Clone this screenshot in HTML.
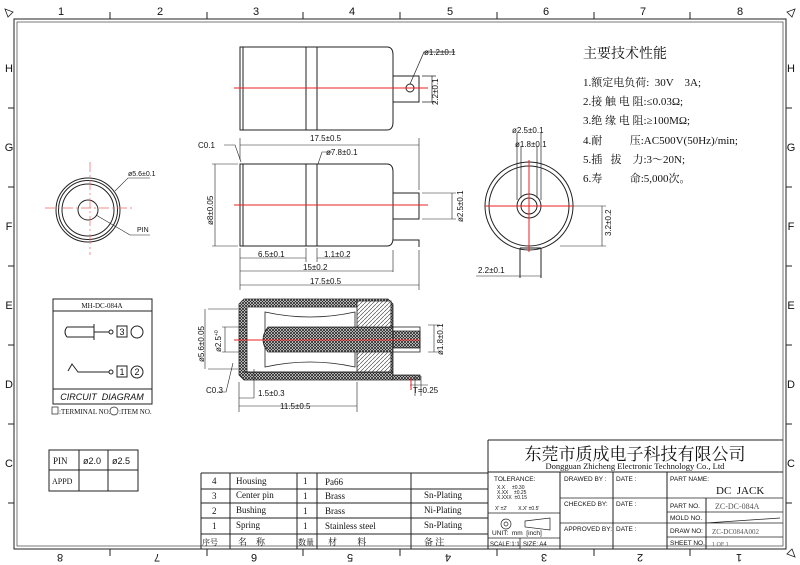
<!DOCTYPE html>
<html><head><meta charset="utf-8"><style>
body{margin:0;background:#fff}
svg{display:block}
text{font-family:"Liberation Sans","Noto Sans CJK SC",sans-serif;fill:#111;white-space:pre}
.s text,text.s{font-family:"Liberation Serif","Noto Serif CJK SC",serif}
</style></head><body>
<svg width="800" height="565" viewBox="0 0 800 565" xmlns="http://www.w3.org/2000/svg">
<defs>
<pattern id="ch" width="3" height="3" patternUnits="userSpaceOnUse"><rect width="3" height="3" fill="#fff"/><path d="M0 0L3 3M3 0L0 3" stroke="#222" stroke-width="0.8"/></pattern>
<pattern id="hh" width="4" height="4" patternUnits="userSpaceOnUse"><rect width="4" height="4" fill="#fff"/><path d="M0 4L4 0" stroke="#333" stroke-width="0.6"/></pattern>
</defs>
<g fill="none" stroke="#222" stroke-width="1">
<rect x="14" y="19" width="772" height="530"/>
<rect x="17" y="22" width="766" height="524" stroke-width="0.6"/>
<path d="M110 12V19M207 12V19M303 12V19M400 12V19M497 12V19M594 12V19M690 12V19"/>
<path d="M110 549V556M207 549V556M303 549V556M400 549V556M497 549V556M594 549V556M690 549V556"/>
<path d="M8 108H14M8 187H14M8 266H14M8 345H14M8 424H14M8 503H14M786 108H792M786 187H792M786 266H792M786 345H792M786 424H792M786 503H792"/>
<path d="M5 9L13 12L8 17Z M795 9L787 12L792 17Z M795 557L787 554L792 549Z" stroke-width="0.8"/>
</g>
<g font-size="11" text-anchor="middle">
<text x="61" y="15">1</text><text x="160" y="15">2</text><text x="256" y="15">3</text><text x="352" y="15">4</text><text x="450" y="15">5</text><text x="546" y="15">6</text><text x="643" y="15">7</text><text x="740" y="15">8</text>
<g transform="rotate(180 400 558)"><text x="61" y="562">1</text><text x="160" y="562">2</text><text x="256" y="562">3</text><text x="352" y="562">4</text><text x="450" y="562">5</text><text x="546" y="562">6</text><text x="643" y="562">7</text><text x="740" y="562">8</text></g>
<text x="9" y="72">H</text><text x="9" y="151">G</text><text x="9" y="230">F</text><text x="9" y="309">E</text><text x="9" y="388">D</text><text x="9" y="467">C</text>
<text x="791" y="72">H</text><text x="791" y="151">G</text><text x="791" y="230">F</text><text x="791" y="309">E</text><text x="791" y="388">D</text><text x="791" y="467">C</text>
</g>

<!-- top view -->
<g fill="none" stroke="#222" stroke-width="1">
<path d="M240 47H387Q393 47 393 55V122Q393 130 387 130H240Z"/>
<path d="M243 47V130M306 47V130M317 47V130"/>
<rect x="393" y="76" width="26" height="26"/>
<circle cx="410" cy="88" r="4"/>
<path d="M422 76H436M422 102H436M432 76V102M410 84L424 52H455" stroke-width="0.7"/>
</g>
<path d="M234 88H428" stroke="#e22" stroke-width="1"/>
<text x="424" y="55" font-size="8">ø1.2±0.1</text>
<text x="0" y="0" font-size="8" transform="translate(438 105) rotate(-90)">2.2±0.1</text>

<!-- side view -->
<g fill="none" stroke="#222" stroke-width="1">
<path d="M240 164H387Q393 164 393 172V238Q393 246 387 246H240Z"/>
<path d="M243 164V246M306 164V246M317 164V246"/>
<rect x="393" y="193" width="26" height="26"/>
<path d="M393 240H419V247" />
<g stroke-width="0.6">
<path d="M240 138V160M419 138V190M240 145H419M212 164H238M212 246H238M215 164V246"/>
<path d="M240 248V290M306 248V262M317 248V262M393 250V272M419 250V290M240 258H306M317 258H350M240 271H393M240 285H419"/>
<path d="M422 193H456M422 219H456M452 193V219M224 145H235L241 162M318 164L322 152H332"/>
</g>
</g>
<path d="M234 205H428" stroke="#e22"/>
<g font-size="8">
<text x="310" y="141">17.5±0.5</text>
<text x="198" y="148">C0.1</text>
<text x="326" y="155">ø7.8±0.1</text>
<text x="258" y="257">6.5±0.1</text>
<text x="324" y="257">1.1±0.2</text>
<text x="303" y="270">15±0.2</text>
<text x="310" y="284">17.5±0.5</text>
<text transform="translate(213 225) rotate(-90)">ø8±0.05</text>
<text transform="translate(463 222) rotate(-90)">ø2.5±0.1</text>
</g>

<!-- left end view -->
<g fill="none" stroke="#222" stroke-width="1">
<circle cx="88" cy="210" r="32"/><circle cx="88" cy="210" r="29.5"/><circle cx="88" cy="210" r="26"/><circle cx="88" cy="210" r="10"/>
<path d="M115 191L128 178H150M96 215L130 235H150" stroke-width="0.6"/>
</g>
<path d="M45 208H135M90 162V255" stroke="#e66" stroke-width="0.7" stroke-dasharray="10 3 2 3"/>
<text x="128" y="176" font-size="7">ø5.6±0.1</text>
<text x="137" y="232" font-size="7">PIN</text>

<!-- circuit -->
<g fill="none" stroke="#222" stroke-width="1">
<rect x="53" y="299" width="99" height="105"/>
<path d="M53 311H152M53 389H152"/>
<path d="M94 327H67Q63 332 67 337H94V324V340M94 332H109"/>
<circle cx="111" cy="332" r="2"/><rect x="117" y="326" width="10" height="11"/><circle cx="137" cy="332" r="6"/>
<path d="M68 371L72 364L78 372H109"/>
<circle cx="111" cy="372" r="2"/><rect x="117" y="366" width="10" height="11"/><circle cx="137" cy="372" r="6"/>
<rect x="52" y="407" width="6" height="7" stroke-width="0.7"/><circle cx="114" cy="411" r="4" stroke-width="0.7"/>
</g>
<text x="102" y="308" font-size="7" text-anchor="middle" class="s">MH-DC-084A</text>
<text x="122" y="335" font-size="9" text-anchor="middle">3</text>
<text x="122" y="375" font-size="9" text-anchor="middle">1</text>
<text x="137" y="375" font-size="9" text-anchor="middle">2</text>
<text x="102" y="400" font-size="9" text-anchor="middle" font-style="italic">CIRCUIT  DIAGRAM</text>
<text x="59" y="414" font-size="7" class="s">:TERMINAL NO.</text>
<text x="119" y="414" font-size="7" class="s">:ITEM NO.</text>

<!-- section view -->
<g stroke="#222" stroke-width="0.8">
<path d="M244 299H388L393 304V380H244L239 375V304Z" fill="url(#ch)"/>
<path d="M247 307H360V372H247Z" fill="#fff"/>
<path d="M265 312Q310 322 355 312V367Q310 357 265 367Z" fill="#fff"/>
<path d="M268 327H393V352H268Q258 340 268 327Z" fill="url(#ch)"/>
<rect x="393" y="327" width="27" height="25" fill="#fff"/>
<path d="M393 331H420V348H393Z" fill="url(#ch)"/>
<path d="M357 301H391V327H357ZM357 352H391V372H357Z" fill="url(#hh)"/>
<path d="M244 372H393M393 375H420V380H393" fill="url(#ch)"/>
</g>
<path d="M234 340H420" stroke="#e22"/>
<g fill="none" stroke="#222" stroke-width="0.6">
<path d="M208 309H238M208 369H238M205 309V369M222 327H245M222 352H245M225 327V352"/>
<path d="M239 382V412M254 369V398M357 382V412M239 398H254M239 406H357"/>
<path d="M415 376V396M421 376V396M410 385H428M428 325H440M428 352H440M434 325V352"/>
<path d="M218 392H226L233 363"/>
</g>
<path d="M411 378V390" stroke="#e22"/>
<g font-size="8">
<text transform="translate(204 362) rotate(-90)">ø5.6±0.05</text>
<text transform="translate(221 352) rotate(-90)">ø2.5<tspan font-size="5" dy="-3">+0</tspan></text>
<text transform="translate(443 355) rotate(-90)">ø1.8±0.1</text>
<text x="258" y="396">1.5±0.3</text>
<text x="280" y="409">11.5±0.5</text>
<text x="413" y="393">T=0.25</text>
<text x="206" y="393">C0.3</text>
</g>

<!-- right end view -->
<g fill="none" stroke="#222" stroke-width="1">
<circle cx="529" cy="206" r="44"/><circle cx="529" cy="206" r="40"/>
<circle cx="529" cy="206" r="12"/><circle cx="529" cy="206" r="8"/>
<path d="M517 133V200M541 133V200M521 146V198M537 146V198" stroke-width="0.7"/>
<path d="M520 248V278M541 248V278M520 248H541" />
<path d="M573 206H606M560 246H606M602 206V246M476 276H541" stroke-width="0.6"/>
</g>
<path d="M485 206H573M529 160V252" stroke="#e22"/>
<g font-size="8">
<text x="512" y="133">ø2.5±0.1</text>
<text x="515" y="147">ø1.8±0.1</text>
<text x="478" y="273">2.2±0.1</text>
<text transform="translate(611 236) rotate(-90)">3.2±0.2</text>
</g>

<!-- specs -->
<g class="s" font-size="11">
<text x="583" y="58" font-size="14">主要技术性能</text>
<text x="583" y="86">1.额定电负荷:  30V    3A;</text>
<text x="583" y="105">2.接 触 电 阻:≤0.03Ω;</text>
<text x="583" y="124">3.绝 缘 电 阻:≥100MΩ;</text>
<text x="583" y="144">4.耐          压:AC500V(50Hz)/min;</text>
<text x="583" y="163">5.插   拔    力:3～20N;</text>
<text x="583" y="182">6.寿          命:5,000次。</text>
</g>

<!-- PIN table -->
<g fill="none" stroke="#222" stroke-width="1">
<rect x="49" y="450" width="89" height="41"/><path d="M49 470H138M79 450V491M108 450V491"/>
</g>
<text x="53" y="464" font-size="9" class="s">PIN</text>
<text x="83" y="464" font-size="9">ø2.0</text><text x="112" y="464" font-size="9">ø2.5</text>
<text x="52" y="484" font-size="8" class="s">APPD</text>

<!-- parts table -->
<g fill="none" stroke="#222" stroke-width="1">
<path d="M201 473H488M201 489H488M201 503H488M201 518H488M201 534H488M201 473V549M230 473V549M297 473V549M317 473V549M411 473V549"/>
</g>
<g font-size="9" class="s">
<text x="212" y="484">4</text><text x="236" y="484">Housing</text><text x="303" y="484">1</text><text x="325" y="485">Pa66</text>
<text x="212" y="499">3</text><text x="236" y="498">Center pin</text><text x="303" y="499">1</text><text x="325" y="499">Brass</text><text x="424" y="498">Sn-Plating</text>
<text x="212" y="514">2</text><text x="236" y="513">Bushing</text><text x="303" y="514">1</text><text x="325" y="514">Brass</text><text x="424" y="513">Ni-Plating</text>
<text x="212" y="529">1</text><text x="236" y="528">Spring</text><text x="303" y="529">1</text><text x="325" y="529">Stainless steel</text><text x="424" y="528">Sn-Plating</text>
<text x="202" y="545" font-size="8">序号</text><text x="238" y="545">名    称</text><text x="298" y="545" font-size="8">数量</text><text x="328" y="545">材         料</text><text x="424" y="545">备 注</text>
</g>

<!-- title block -->
<g fill="none" stroke="#222" stroke-width="1">
<path d="M488 440H783M488 440V549M488 472H783M560 472V549M613 472V549M667 472V549M706 498V549"/>
<path d="M488 513H560M488 538H560M520 538V549M560 498H667M560 523H667M667 498H783M667 512H783M667 523H783M667 537H783M706 523L780 518" stroke-width="0.8"/>
<circle cx="506" cy="524" r="5" stroke-width="0.7"/><circle cx="506" cy="524" r="2" stroke-width="0.7"/>
<path d="M525 521L550 518V530L525 527Z" stroke-width="0.7"/>
</g>
<text x="635" y="460" font-size="17" text-anchor="middle" class="s">东莞市质成电子科技有限公司</text>
<text x="635" y="469" font-size="8.5" text-anchor="middle" class="s">Dongguan Zhicheng Electronic Technology Co., Ltd</text>
<g font-size="6.5">
<text x="494" y="481">TOLERANCE:</text>
<text x="497" y="489" font-size="5">X.X     ±0.30</text>
<text x="497" y="494" font-size="5">X.XX    ±0.25</text>
<text x="497" y="499" font-size="5">X.XXX  ±0.15</text>
<text x="495" y="510" font-size="5">X' ±2'        X.X' ±0.5'</text>
<text x="492" y="535">UNIT:  mm  [inch]</text>
<text x="490" y="546" font-size="6">SCALE:1:1</text><text x="523" y="546" font-size="6">SIZE: A4</text>
<text x="564" y="481">DRAWED BY :</text><text x="616" y="481">DATE :</text>
<text x="564" y="506">CHECKED BY:</text><text x="616" y="506">DATE :</text>
<text x="564" y="531">APPROVED BY:</text><text x="616" y="531">DATE :</text>
<text x="670" y="481">PART NAME:</text>
<text x="670" y="508">PART NO.</text><text x="670" y="520">MOLD NO.</text><text x="670" y="533">DRAW NO:</text><text x="670" y="545">SHEET NO.</text>
</g>
<text x="716" y="494" font-size="11" class="s">DC  JACK</text>
<text x="715" y="509" font-size="8" class="s" style="fill:#555">ZC-DC-084A</text>
<text x="712" y="534" font-size="7" class="s" style="fill:#555">ZC-DC084A002</text>
<text x="712" y="546" font-size="6" class="s" style="fill:#555">1 OF 1</text>
</svg>
</body></html>
